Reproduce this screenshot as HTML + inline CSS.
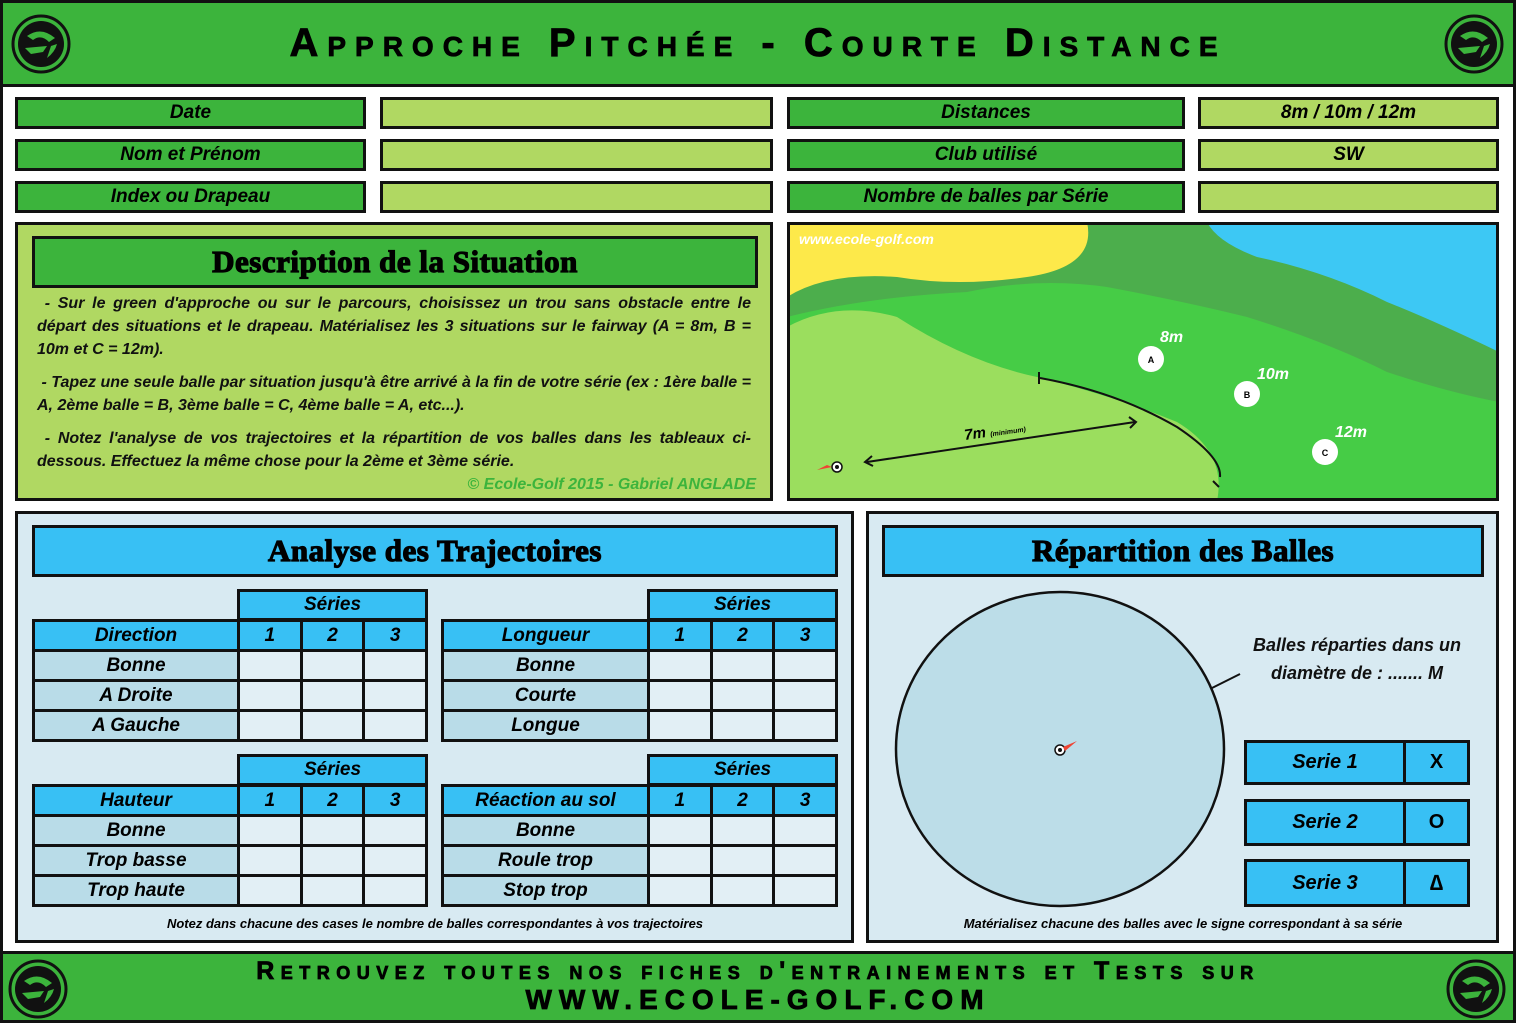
<!DOCTYPE html>
<html><head><meta charset="utf-8"><style>
*{margin:0;padding:0;box-sizing:border-box}
body{width:1516px;height:1023px;position:relative;background:#fff;overflow:hidden;font-family:"Liberation Sans",sans-serif}
.a{position:absolute}
.bx{position:absolute;border:3px solid #111;display:flex;align-items:center;justify-content:center;font-weight:bold;font-style:italic;font-size:19px;color:#000}
.g{background:#3cb43c}.lg{background:#b0d862}.bl{background:#38c0f4}.lb{background:#d8eaf2}
.ttl{font-family:"Liberation Serif",serif;font-weight:900;font-style:normal;font-size:31px;letter-spacing:0.5px;-webkit-text-stroke:1.2px #000}
.sc{font-variant:small-caps;font-weight:bold;color:#000;text-align:center;-webkit-text-stroke:0.8px #000}
table{position:absolute;border-collapse:collapse;table-layout:fixed}
td{border:3px solid #111;text-align:center;font-weight:bold;font-style:italic;font-size:19px;padding:0;height:30px;background:#e2eff5}
td.h{background:#38c0f4}td.l{background:#b9dce8}
.desc{font-family:"Liberation Sans Narrow","Liberation Sans",sans-serif;font-style:italic;font-weight:bold;font-size:16px;line-height:23px;text-align:justify;color:#111}
.note{font-family:"Liberation Sans Narrow","Liberation Sans",sans-serif;font-style:italic;font-weight:bold;font-size:13px;text-align:center}
</style></head><body>
<!-- header -->
<div class="a g" style="left:0;top:0;width:1516px;height:87px;border:3px solid #111"></div>
<div class="a sc" style="left:0;top:21px;width:1516px;font-size:40px;letter-spacing:9px">Approche Pitchée - Courte Distance</div>
<!-- footer -->
<div class="a g" style="left:0;top:951px;width:1516px;height:72px;border:3px solid #111"></div>
<div class="a sc" style="left:0;top:957px;width:1516px;font-size:25px;line-height:28px;letter-spacing:6.5px">Retrouvez toutes nos fiches d'entrainements et Tests sur</div>
<div class="a sc" style="left:0;top:985px;width:1516px;font-size:28px;line-height:30px;letter-spacing:7px">WWW.ECOLE-GOLF.COM</div>
<div class="a" style="left:0;top:85px;width:3px;height:868px;background:#111"></div>
<div class="a" style="right:0;top:85px;width:3px;height:868px;background:#111"></div>
<!-- logos -->
<svg class="a" style="left:0;top:0" width="1516" height="1023">
<defs><g id="lg"><circle r="28" fill="none" stroke="#111" stroke-width="3"/><circle r="23" fill="#111"/><path d="M-14,-8 Q0,-18 14,-6 L8,-2 Q0,-10 -8,-4 Z M-16,4 L6,2 L2,8 L-10,10 Z M6,14 Q14,8 16,0 L10,2 Z" fill="#3cb43c"/></g></defs>
<use href="#lg" x="41" y="44"/><use href="#lg" x="1474" y="44"/>
<use href="#lg" x="38" y="989"/><use href="#lg" x="1476" y="989"/>
</svg>
<!-- info rows -->
<div class="bx g" style="left:15px;top:97px;width:351px;height:32px">Date</div>
<div class="bx lg" style="left:380px;top:97px;width:393px;height:32px"></div>
<div class="bx g" style="left:787px;top:97px;width:398px;height:32px">Distances</div>
<div class="bx lg" style="left:1198px;top:97px;width:301px;height:32px">8m / 10m / 12m</div>
<div class="bx g" style="left:15px;top:139px;width:351px;height:32px">Nom et Prénom</div>
<div class="bx lg" style="left:380px;top:139px;width:393px;height:32px"></div>
<div class="bx g" style="left:787px;top:139px;width:398px;height:32px">Club utilisé</div>
<div class="bx lg" style="left:1198px;top:139px;width:301px;height:32px">SW</div>
<div class="bx g" style="left:15px;top:181px;width:351px;height:32px">Index ou Drapeau</div>
<div class="bx lg" style="left:380px;top:181px;width:393px;height:32px"></div>
<div class="bx g" style="left:787px;top:181px;width:398px;height:32px">Nombre de balles par Série</div>
<div class="bx lg" style="left:1198px;top:181px;width:301px;height:32px"></div>
<!-- description -->
<div class="a lg" style="left:15px;top:222px;width:758px;height:279px;border:3px solid #111"></div>
<div class="bx g ttl" style="left:32px;top:236px;width:726px;height:52px">Description de la Situation</div>
<div class="a desc" style="left:37px;top:292px;width:714px">
<p>&nbsp;- Sur le green d'approche ou sur le parcours, choisissez un trou sans obstacle entre le départ des situations et le drapeau. Matérialisez les 3 situations sur le fairway (A = 8m, B = 10m et C = 12m).</p>
<p style="margin-top:10px">&nbsp;- Tapez une seule balle par situation jusqu'à être arrivé à la fin de votre série (ex : 1ère balle = A, 2ème balle = B, 3ème balle = C, 4ème balle = A, etc...).</p>
<p style="margin-top:10px">&nbsp;- Notez l'analyse de vos trajectoires et la répartition de vos balles dans les tableaux ci-dessous. Effectuez la même chose pour la 2ème et 3ème série.</p>
</div>
<div class="a desc" style="left:380px;top:473px;width:376px;text-align:right;color:#3cb43c">© Ecole-Golf 2015 - Gabriel ANGLADE</div>
<!-- map -->
<svg class="a" style="left:787px;top:222px" width="712" height="279" viewBox="0 0 712 279">
<rect width="712" height="279" fill="#4cae4c"/>
<path d="M0,0 H300 Q310,45 240,55 Q170,65 110,55 Q40,50 0,75 Z" fill="#fde94a"/>
<path d="M420,0 H712 V130 Q650,100 600,80 Q540,50 470,35 Q430,20 420,0 Z" fill="#3dc8f4"/>
<path d="M0,95 Q80,75 180,70 Q250,55 320,65 Q400,80 460,95 Q540,120 600,150 Q660,170 712,180 V279 H0 Z" fill="#46cc46"/>
<path d="M0,105 Q50,78 110,95 Q180,140 250,155 Q330,175 390,200 Q440,230 430,279 H0 Z" fill="#9bde5e"/>
<path d="M253,156 Q330,170 390,205 Q435,235 433,255" fill="none" stroke="#111" stroke-width="2"/>
<line x1="252" y1="150" x2="252" y2="162" stroke="#111" stroke-width="2"/>
<line x1="426" y1="259" x2="432" y2="265" stroke="#111" stroke-width="2"/>
<line x1="80" y1="240" x2="348" y2="200" stroke="#111" stroke-width="2"/>
<path d="M85,234 L78,240 L86,244" fill="none" stroke="#111" stroke-width="2"/>
<path d="M342,195 L349,200 L343,206" fill="none" stroke="#111" stroke-width="2"/>
<text x="178" y="218" font-size="15" font-weight="bold" font-style="italic" transform="rotate(-8 178 218)">7m <tspan font-size="7">(minimum)</tspan></text>
<circle cx="50" cy="245" r="5" fill="#fff" stroke="#111" stroke-width="1.5"/><circle cx="50" cy="245" r="2" fill="#111"/>
<path d="M45,245 L30,248 L40,243 Z" fill="#e43"/>
<g font-family="Liberation Sans" font-weight="bold" font-size="9" text-anchor="middle">
<circle cx="364" cy="137" r="13" fill="#fff"/><text x="364" y="141">A</text>
<circle cx="460" cy="172" r="13" fill="#fff"/><text x="460" y="176">B</text>
<circle cx="538" cy="230" r="13" fill="#fff"/><text x="538" y="234">C</text>
</g>
<g fill="#fff" font-weight="bold" font-style="italic" font-size="16">
<text x="373" y="120">8m</text><text x="470" y="157">10m</text><text x="548" y="215">12m</text>
<text x="12" y="22" font-size="14">www.ecole-golf.com</text></g>
<rect x="1.5" y="1.5" width="709" height="276" fill="none" stroke="#111" stroke-width="3"/>
</svg>
<!-- bottom panels -->
<div class="a lb" style="left:15px;top:511px;width:839px;height:432px;border:3px solid #111"></div>
<div class="a lb" style="left:866px;top:511px;width:633px;height:432px;border:3px solid #111"></div>
<div class="bx bl ttl" style="left:32px;top:525px;width:806px;height:52px">Analyse des Trajectoires</div>
<div class="bx bl ttl" style="left:882px;top:525px;width:602px;height:52px">Répartition des Balles</div>
<!-- tables -->
<div class="bx bl" style="left:237px;top:589px;width:191px;height:32px">Séries</div>
<div class="bx bl" style="left:647px;top:589px;width:191px;height:32px">Séries</div>
<div class="bx bl" style="left:237px;top:754px;width:191px;height:32px">Séries</div>
<div class="bx bl" style="left:647px;top:754px;width:191px;height:32px">Séries</div>
<table style="left:32px;top:619px;width:396px"><colgroup><col style="width:205px"><col><col><col></colgroup>
<tr><td class="h">Direction</td><td class="h">1</td><td class="h">2</td><td class="h">3</td></tr>
<tr><td class="l">Bonne</td><td></td><td></td><td></td></tr>
<tr><td class="l">A Droite</td><td></td><td></td><td></td></tr>
<tr><td class="l">A Gauche</td><td></td><td></td><td></td></tr></table>
<table style="left:441px;top:619px;width:397px"><colgroup><col style="width:206px"><col><col><col></colgroup>
<tr><td class="h">Longueur</td><td class="h">1</td><td class="h">2</td><td class="h">3</td></tr>
<tr><td class="l">Bonne</td><td></td><td></td><td></td></tr>
<tr><td class="l">Courte</td><td></td><td></td><td></td></tr>
<tr><td class="l">Longue</td><td></td><td></td><td></td></tr></table>
<table style="left:32px;top:784px;width:396px"><colgroup><col style="width:205px"><col><col><col></colgroup>
<tr><td class="h">Hauteur</td><td class="h">1</td><td class="h">2</td><td class="h">3</td></tr>
<tr><td class="l">Bonne</td><td></td><td></td><td></td></tr>
<tr><td class="l">Trop basse</td><td></td><td></td><td></td></tr>
<tr><td class="l">Trop haute</td><td></td><td></td><td></td></tr></table>
<table style="left:441px;top:784px;width:397px"><colgroup><col style="width:206px"><col><col><col></colgroup>
<tr><td class="h">Réaction au sol</td><td class="h">1</td><td class="h">2</td><td class="h">3</td></tr>
<tr><td class="l">Bonne</td><td></td><td></td><td></td></tr>
<tr><td class="l">Roule trop</td><td></td><td></td><td></td></tr>
<tr><td class="l">Stop trop</td><td></td><td></td><td></td></tr></table>
<div class="a note" style="left:32px;top:916px;width:806px">Notez dans chacune des cases le nombre de balles correspondantes à vos trajectoires</div>
<div class="a note" style="left:882px;top:916px;width:602px">Matérialisez chacune des balles avec le signe correspondant à sa série</div>
<!-- circle -->
<svg class="a" style="left:866px;top:511px" width="633" height="432">
<ellipse cx="194" cy="238" rx="164" ry="157" fill="#bcdde8" stroke="#111" stroke-width="2.5"/>
<line x1="346" y1="177" x2="374" y2="163" stroke="#111" stroke-width="2"/>
<circle cx="194" cy="239" r="5" fill="#fff" stroke="#111" stroke-width="1.5"/><circle cx="194" cy="239" r="2" fill="#111"/>
<path d="M197,236 L211,230 L199,240 Z" fill="#e43"/>
</svg>
<div class="a desc" style="left:1230px;top:631px;width:254px;text-align:center;font-size:18px;line-height:28px">Balles réparties dans un<br>diamètre de : ....... M</div>
<div class="bx bl" style="left:1244px;top:740px;width:162px;height:45px;font-size:20px">Serie 1</div>
<div class="bx bl" style="left:1403px;top:740px;width:67px;height:45px;font-style:normal;font-size:20px">X</div>
<div class="bx bl" style="left:1244px;top:799px;width:162px;height:47px;font-size:20px">Serie 2</div>
<div class="bx bl" style="left:1403px;top:799px;width:67px;height:47px;font-style:normal;font-size:20px">O</div>
<div class="bx bl" style="left:1244px;top:859px;width:162px;height:48px;font-size:20px">Serie 3</div>
<div class="bx bl" style="left:1403px;top:859px;width:67px;height:48px;font-style:normal;font-size:22px">∆</div>
</body></html>
